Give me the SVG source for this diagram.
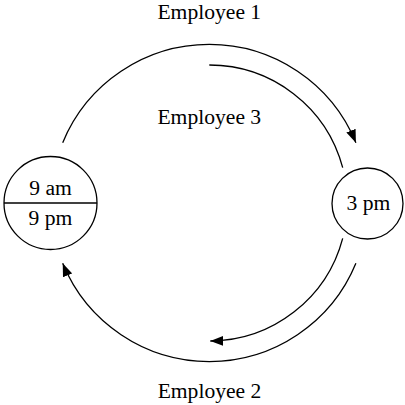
<svg xmlns="http://www.w3.org/2000/svg" width="405" height="405" viewBox="0 0 405 405">
  <style>
    .ln { fill: none; stroke: #000; stroke-width: 1.3; }
    .nd { fill: #fff; stroke: #000; stroke-width: 1.3; }
    .tx { font-family: "Liberation Serif", "Times New Roman", serif; font-size: 21.6px; fill: #000; text-anchor: middle; }
  </style>
  <defs>
    <marker id="ah" viewBox="0 0 13 10" refX="13" refY="5" markerWidth="13" markerHeight="10" markerUnits="userSpaceOnUse" orient="auto">
      <path d="M0,0 L13,5 L0,10 z" fill="#000"/>
    </marker>
  </defs>
  <rect width="405" height="405" fill="#fff"/>
  <g id="connectors">
    <path class="ln" d="M 62.7 142.7 A 158.5 158.5 0 0 1 355.9 142.7" marker-end="url(#ah)"/>
    <path class="ln" d="M 355.9 263.3 A 158.5 158.5 0 0 1 62.7 263.3" marker-end="url(#ah)"/>
    <path class="ln" d="M 209.3 65 A 138 138 0 0 1 342.7 167.7"/>
    <path class="ln" d="M 342.7 238.3 A 138 138 0 0 1 210.3 341" marker-end="url(#ah)"/>
  </g>
  <g id="node-left">
    <circle class="nd" cx="50.5" cy="203" r="46.5"/>
    <line class="ln" x1="4" y1="203" x2="97" y2="203"/>
    <text class="tx" x="50.5" y="195">9 am</text>
    <text class="tx" x="50.5" y="225">9 pm</text>
  </g>
  <g id="node-right">
    <circle class="nd" cx="367.5" cy="203.5" r="35.5"/>
    <text class="tx" x="368.5" y="210">3 pm</text>
  </g>
  <g id="labels">
    <text class="tx" x="209.3" y="18.5">Employee 1</text>
    <text class="tx" x="209.3" y="124">Employee 3</text>
    <text class="tx" x="209.5" y="398">Employee 2</text>
  </g>
</svg>
